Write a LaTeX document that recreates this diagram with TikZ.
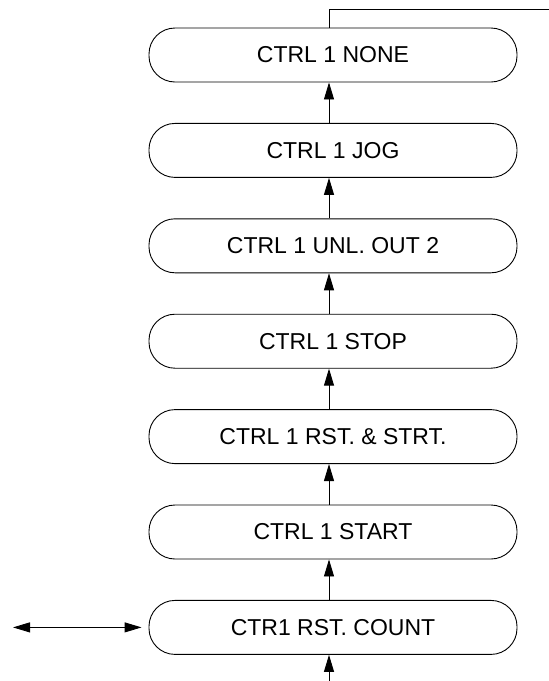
\documentclass[tikz,border=0pt]{standalone}
\usepackage{fontspec}
\setmainfont{Liberation Sans}
\usetikzlibrary{arrows.meta}
\begin{document}
\begin{tikzpicture}[x=1pt,y=-1pt,
  stepbox/.style={draw, line width=0.9pt, rounded corners=26pt, minimum width=368pt, minimum height=54pt, inner sep=0pt, font=\fontsize{23}{25}\selectfont},
  arr/.style={line width=0.9pt, -{Triangle[length=17pt,width=10pt]}},
  dbl/.style={line width=0.9pt, {Triangle[length=17pt,width=10pt]}-{Triangle[length=17pt,width=10pt]}},
  ln/.style={line width=0.9pt}]
\useasboundingbox (0,0) rectangle (549,681);
\node[stepbox] (n1) at (333,55) {CTRL 1 NONE};
\node[stepbox] (n2) at (333,150.4) {CTRL 1 JOG};
\node[stepbox] (n3) at (333,245.8) {CTRL 1 UNL. OUT 2};
\node[stepbox] (n4) at (333,341.2) {CTRL 1 STOP};
\node[stepbox] (n5) at (333,436.6) {CTRL 1 RST. \& STRT.};
\node[stepbox] (n6) at (333,532) {CTRL 1 START};
\node[stepbox] (n7) at (333,627.4) {CTR1 RST. COUNT};
\coordinate (topend) at (549,9);
\coordinate (botstart) at (329,681);
\coordinate (leftend) at (13,627.4);
\draw[ln] ([xshift=-4pt]n1.north) |- (topend);
\draw[arr] ([xshift=-4pt]n2.north) -- ([xshift=-4pt]n1.south);
\draw[arr] ([xshift=-4pt]n3.north) -- ([xshift=-4pt]n2.south);
\draw[arr] ([xshift=-4pt]n4.north) -- ([xshift=-4pt]n3.south);
\draw[arr] ([xshift=-4pt]n5.north) -- ([xshift=-4pt]n4.south);
\draw[arr] ([xshift=-4pt]n6.north) -- ([xshift=-4pt]n5.south);
\draw[arr] ([xshift=-4pt]n7.north) -- ([xshift=-4pt]n6.south);
\draw[arr] (botstart) -- ([xshift=-4pt]n7.south);
\draw[dbl, shorten >=7pt] (leftend) -- (n7.west);
\end{tikzpicture}
\end{document}
